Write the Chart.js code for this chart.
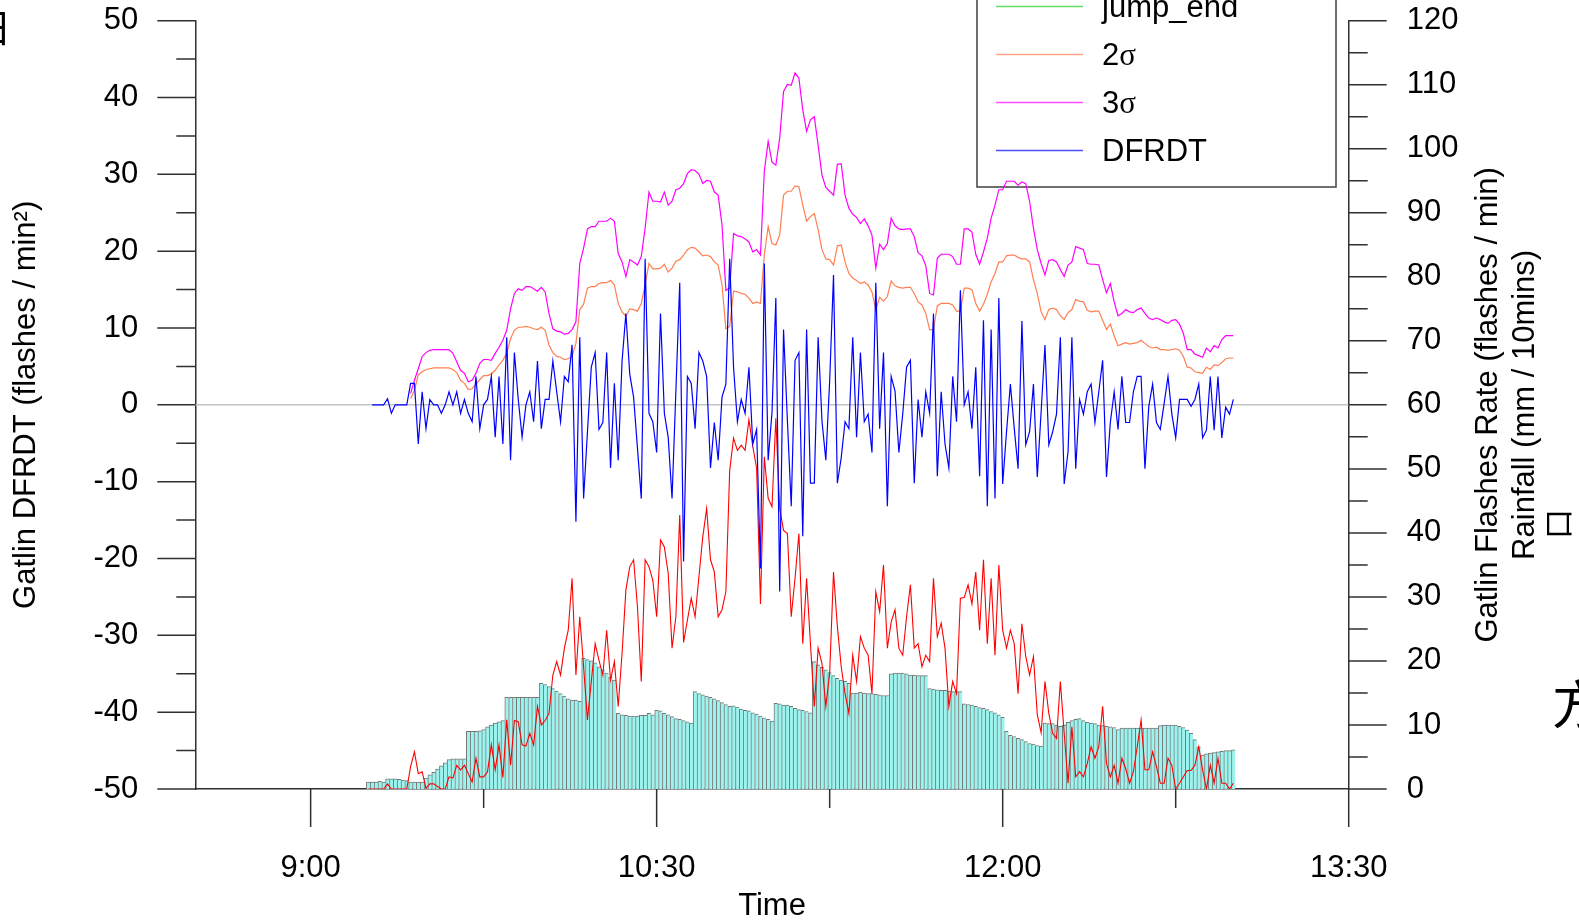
<!DOCTYPE html>
<html>
<head>
<meta charset="utf-8">
<script src="https://cdn.jsdelivr.net/npm/chart.js@4.4.1/dist/chart.umd.min.js"></script>
<style>
	html, body { margin: 0; padding: 0; background: #fff; overflow: hidden; }
	canvas { display: block; }
</style>
</head>
<body>
<canvas id="chart" width="1579" height="920" style="width:1579px;height:920px"></canvas>
<script>
// time axis (h:mm)
const X_MIN = '8:30';
const X_MAX = '13:30';
const X_LABELS = ['9:00', '10:30', '12:00', '13:30'];
const X_MINOR = ['9:45', '11:15', '12:45'];

// DFRDT, one value a minute from 9:16
const DFRDT_START = '9:16';
const dfrdt = [
	0, 0, 0, 0, 0.8, -1.1, 0, 0, 0, 0,
	2.8, 2.8, -5.1, 1.7, -3.1, 0.7, 0, 0, -1.1, 0,
	1.7, 0, 1.7, -1.1, 0.7, -1.1, -2.2, 3.7, -3.1, 0,
	0.7, 3.7, -4.2, 3.7, -5.1, 8.8, -7.2, 6.8, 0.7, -4.2,
	0, 1.7, -2.2, 5.7, -3.1, 0.7, 0.7, 5.7, 1.7, -2.2,
	3.7, 3.0, 7.8, -15.2, 8.8, -12.2, -3.5, 4.9, 6.8, -3.2,
	-2.3, 6.8, -8.2, 2.8, -7.2, 5.7, 11.9, 4.0, 1.0, -5.6,
	-12.2, 19.0, -1.1, -2.2, -6.2, 11.9, -1.1, -4.2, -12.2, 1.8,
	15.9, -20.4, 3.7, 2.8, -3.1, 6.8, 5.7, 3.7, -8.2, -2.3,
	-7.2, 1.0, 2.7, 19.0, 4.9, -2.2, 0.7, -1.1, 4.9, -5.1,
	-3.2, -21.3, 18.4, -7.2, -1.0, 13.9, -24.3, 9.8, -2.0, -13.2,
	5.8, 6.8, -17.1, 9.8, -10.2, -10.2, 8.8, -2.1, -7.2, 3.1,
	16.9, -10.2, -6.9, -2.2, -3.1, 8.8, -4.2, 6.8, -2.2, -1.2,
	-6.2, 15.9, -3.1, 6.8, -13.2, 3.7, 1.8, -6.2, -1.2, 4.9,
	5.8, -10.2, 0.7, -4.2, 1.7, -1.1, 11.9, -9.3, 1.7, -5.1,
	-8.2, 3.7, -2.2, 14.9, 0, 1.7, -3.1, 4.9, -9.3, 11.0,
	-13.2, 9.8, -12.2, 13.9, -10.3, -3.5, 2.7, -3.0, -8.3, 10.9,
	-5.2, -3.5, 2.7, -9.4, -0.9, 7.8, -5.2, -3.5, -1.2, 8.8,
	-10.3, -6.1, 8.8, -8.3, 0.7, -1.2, 1.7, 2.7, -2.3, 1.7,
	5.8, -9.4, -2.3, 1.7, -3.2, 3.7, -2.3, -2.3, 1.7, 3.7,
	3.7, -8.3, -0.2, 2.7, -2.3, -3.2, 0.2, 3.7, -1.2, -4.3,
	0.7, 0.7, 0.7, -0.2, 0.7, 2.7, -4.3, -3.3, 3.7, -3.3,
	3.7, -4.3, -0.3, -1.2, 0.7
];

// 2 sigma / 3 sigma thresholds from 9:26
const SIGMA_START = '9:26';
const sigma2 = [
	0.8, 1.9, 3.9, 4.3, 4.6, 4.7, 4.8, 4.8, 4.8, 4.8,
	4.8, 4.6, 4.2, 3.2, 2.8, 2.0, 2.1, 2.7, 3.3, 3.8,
	3.8, 4.0, 4.5, 5.2, 5.8, 6.7, 8.6, 9.7, 10.1, 10.1,
	10.2, 10.1, 9.9, 9.8, 10.1, 9.7, 7.8, 6.8, 6.3, 6.2,
	5.9, 6.0, 6.3, 8.0, 12.4, 13.1, 15.2, 15.4, 15.4, 15.8,
	15.9, 15.9, 16.2, 15.6, 13.2, 12.1, 11.5, 12.5, 12.4, 12.2,
	13.2, 15.6, 18.4, 17.7, 17.7, 17.8, 18.3, 17.3, 17.8, 18.7,
	18.9, 19.5, 20.2, 20.5, 20.4, 19.9, 19.4, 19.5, 19.3, 18.6,
	18.2, 15.6, 9.9, 10.2, 14.8, 14.7, 14.5, 14.4, 13.9, 13.2,
	13.4, 13.2, 19.5, 23.2, 21.0, 20.8, 22.1, 27.3, 27.8, 27.8,
	28.5, 28.4, 26.0, 23.9, 24.5, 24.9, 22.8, 20.2, 19.0, 18.9,
	18.2, 20.7, 20.8, 18.6, 17.1, 16.5, 16.2, 15.8, 16.0, 15.6,
	14.7, 12.4, 14.0, 13.5, 14.1, 16.1, 15.5, 15.3, 15.2, 15.3,
	15.3, 14.5, 13.4, 13.0, 11.9, 9.8, 9.8, 12.9, 13.2, 13.2,
	13.2, 13.0, 12.2, 12.2, 15.2, 15.2, 15.0, 13.2, 12.2, 13.1,
	14.4, 16.0, 17.1, 18.6, 18.6, 19.4, 19.5, 19.5, 19.2, 19.0,
	19.0, 18.6, 16.3, 14.5, 12.1, 11.1, 12.4, 12.6, 12.4, 11.6,
	11.1, 12.0, 12.4, 13.7, 13.5, 13.4, 12.3, 12.1, 12.2, 12.2,
	11.0, 9.8, 10.5, 9.0, 7.7, 7.9, 8.1, 7.9, 8.0, 8.1,
	8.4, 8.0, 7.6, 7.4, 7.5, 7.2, 7.2, 7.1, 7.2, 7.3,
	7.1, 6.3, 4.9, 4.8, 4.3, 4.2, 4.1, 4.9, 4.6, 5.2,
	5.1, 5.5, 6.0, 6.1, 6.1
];
const sigma3 = [
	1.5, 3.2, 4.7, 6.3, 6.8, 7.1, 7.2, 7.2, 7.2, 7.2,
	7.2, 6.7, 5.6, 4.5, 4.1, 3.0, 3.2, 4.1, 5.4, 5.9,
	5.9, 5.8, 6.7, 7.5, 8.4, 9.7, 12.5, 14.5, 15.1, 14.9,
	15.4, 15.4, 15.1, 14.8, 15.3, 14.7, 11.9, 9.9, 9.6, 9.5,
	9.2, 9.3, 9.8, 10.8, 18.4, 20.4, 22.9, 23.2, 23.2, 23.9,
	23.9, 23.9, 24.3, 23.9, 19.7, 18.6, 16.7, 18.9, 18.6, 18.2,
	19.3, 23.0, 27.7, 26.5, 26.5, 26.4, 27.7, 26.0, 26.5, 28.0,
	28.2, 28.8, 30.1, 30.6, 30.5, 30.0, 28.8, 29.2, 29.1, 27.7,
	27.3, 23.4, 14.9, 15.2, 22.3, 22.0, 21.9, 21.6, 21.2, 19.9,
	20.2, 19.5, 30.4, 34.3, 31.6, 31.2, 34.7, 40.8, 41.7, 41.6,
	43.2, 42.5, 38.4, 35.6, 37.1, 37.5, 33.8, 29.9, 28.3, 27.8,
	27.3, 31.3, 31.4, 27.3, 25.6, 24.8, 24.4, 23.6, 24.2, 23.3,
	22.1, 17.8, 20.9, 20.2, 21.0, 24.3, 23.3, 22.9, 22.8, 22.9,
	22.9, 21.9, 19.8, 19.4, 18.1, 14.5, 14.3, 19.1, 19.6, 19.6,
	19.6, 19.3, 18.3, 18.3, 22.9, 22.9, 22.5, 19.6, 18.3, 19.9,
	21.7, 24.3, 26.0, 28.0, 28.0, 29.1, 29.1, 29.1, 28.6, 29.0,
	28.8, 26.5, 23.0, 20.2, 18.4, 16.9, 18.8, 18.9, 18.6, 17.6,
	16.7, 18.2, 18.6, 20.6, 20.4, 20.2, 18.4, 18.3, 18.3, 18.2,
	16.3, 14.6, 15.8, 13.4, 11.6, 11.9, 12.4, 12.1, 12.0, 12.4,
	12.6, 11.9, 11.3, 11.1, 11.3, 11.1, 10.8, 10.6, 11.0, 11.1,
	10.5, 9.3, 7.2, 7.2, 6.6, 6.4, 6.2, 7.4, 6.9, 7.7,
	7.4, 8.5, 9.0, 9.0, 9.0
];

// Gatlin flash rate and rainfall (right axis), from 9:15
const RATE_START = '9:15';
const flashRate = [
	0, 0, 0, 0, 0, 0.8, 0, 0, 0, 0,
	0, 3.5, 5.8, 2.4, 2.7, 0.1, 0.8, 0.8, 0.4, 0,
	0, 1.9, 1.7, 3.7, 3.0, 3.7, 2.4, 1.1, 4.8, 1.9,
	1.9, 2.7, 6.9, 3.0, 6.9, 1.8, 10.8, 3.7, 10.7, 10.5,
	6.9, 6.7, 8.7, 6.9, 12.9, 10.0, 10.7, 11.8, 17.8, 19.9,
	17.8, 22.0, 24.8, 32.9, 17.8, 26.9, 19.1, 10.8, 16.8, 22.7,
	20.1, 17.8, 24.8, 17.0, 19.9, 12.9, 21.2, 31.1, 34.7, 35.8,
	28.5, 16.8, 35.8, 34.7, 32.6, 26.9, 38.9, 37.8, 33.7, 22.0,
	26.9, 42.8, 22.9, 26.4, 29.8, 26.9, 33.2, 39.4, 43.8, 35.8,
	33.9, 26.9, 28.0, 30.8, 49.8, 54.8, 52.9, 53.7, 52.9, 57.7,
	53.5, 50.1, 28.9, 51.9, 45.4, 44.1, 57.9, 43.8, 40.4, 39.9,
	26.9, 33.0, 39.9, 22.7, 32.9, 22.7, 12.9, 22.0, 19.6, 12.9,
	18.1, 33.9, 25.4, 19.1, 14.9, 11.8, 20.9, 16.8, 23.8, 22.0,
	20.9, 14.9, 30.8, 27.7, 35.0, 22.0, 26.1, 28.0, 22.0, 20.9,
	26.9, 31.9, 22.0, 22.7, 19.1, 20.9, 19.9, 32.9, 23.8, 25.9,
	22.0, 12.9, 16.8, 14.9, 29.8, 29.9, 31.9, 28.9, 33.9, 24.8,
	35.8, 22.7, 32.9, 20.9, 35.0, 24.8, 22.0, 24.8, 22.7, 14.9,
	25.8, 20.7, 17.8, 20.7, 11.6, 8.8, 16.8, 11.8, 8.7, 7.9,
	16.8, 8.7, 0.9, 9.7, 1.9, 2.7, 1.9, 4.0, 6.6, 4.8,
	6.6, 12.9, 4.0, 1.9, 3.7, 0.9, 4.8, 3.2, 0.9, 2.7,
	6.6, 10.8, 3.0, 3.0, 5.8, 3.5, 0.9, 0.9, 4.8, 3.7,
	0, 0.9, 1.9, 2.9, 2.9, 3.7, 6.6, 3.0, 0, 3.7,
	0.9, 4.8, 0.9, 0.9, 0, 0.9
];
const rainfall = [
	1.1, 1.1, 1.1, 1.2, 1.1, 1.6, 1.6, 1.6, 1.5, 1.4,
	1.3, 1.1, 1.1, 1.1, 1.1, 1.7, 2.2, 2.6, 3.1, 3.6,
	4.1, 4.6, 4.7, 4.7, 4.7, 4.7, 9.0, 9.0, 9.0, 9.1,
	9.3, 9.7, 10.0, 10.3, 10.5, 10.7, 14.3, 14.3, 14.3, 14.3,
	14.3, 14.3, 14.3, 14.3, 14.3, 16.5, 16.3, 16.0, 15.7, 15.3,
	14.9, 14.5, 14.1, 13.9, 13.9, 13.7, 20.4, 20.2, 20.0, 19.7,
	19.1, 18.6, 18.1, 17.5, 17.0, 11.8, 11.6, 11.5, 11.4, 11.4,
	11.4, 11.5, 11.5, 11.8, 11.6, 12.3, 12.2, 11.8, 11.6, 11.3,
	11.0, 10.9, 10.7, 10.5, 10.3, 15.2, 14.9, 14.7, 14.5, 14.3,
	14.1, 13.8, 13.5, 13.2, 12.9, 13.0, 12.8, 12.5, 12.3, 12.2,
	11.9, 11.7, 11.4, 11.1, 10.9, 10.6, 13.4, 13.3, 13.1, 13.1,
	12.9, 12.6, 12.4, 12.3, 12.1, 11.9, 19.9, 19.4, 19.0, 18.6,
	18.2, 17.7, 17.3, 17.0, 16.8, 16.5, 15.0, 15.0, 15.1, 15.0,
	14.9, 14.9, 14.8, 14.7, 14.6, 14.6, 18.0, 18.1, 18.1, 18.1,
	18.0, 17.8, 17.8, 17.7, 17.7, 17.7, 15.7, 15.6, 15.5, 15.4,
	15.4, 15.3, 15.2, 15.2, 15.2, 13.3, 13.2, 13.1, 12.9, 12.7,
	12.6, 12.4, 12.1, 11.9, 11.6, 11.2, 9.0, 8.4, 8.2, 7.9,
	7.7, 7.4, 7.1, 7.0, 6.8, 6.7, 10.3, 10.2, 10.2, 10.0,
	9.8, 10.0, 10.4, 10.7, 10.9, 11.0, 10.7, 10.4, 10.3, 10.2,
	10.0, 9.9, 9.8, 9.7, 9.6, 9.3, 9.5, 9.5, 9.5, 9.5,
	9.5, 9.5, 9.5, 9.5, 9.5, 9.5, 9.9, 10.0, 10.0, 10.0,
	10.0, 9.8, 9.6, 9.2, 8.7, 7.7, 6.6, 5.3, 5.5, 5.6,
	5.7, 5.8, 5.9, 6.0, 6.0, 6.1
];

const LEGEND_ITEMS = ['jump_end', '2σ', '3σ', 'DFRDT'];
const RIGHT_TITLE = ['Gatlin Flashes Rate (flashes / min)', 'Rainfall (mm / 10mins)'];

const FONT = "'Liberation Sans', Arial, sans-serif";
const FS = 31;
const AXIS = '#303030';

let toMin = s => {
	let [h, m] = s.split(':').map(Number);
	return h * 60 + m;
};
let fmtMin = v => Math.floor(v / 60) + ':' + String(v % 60).padStart(2, '0');
let series = (start, vals) => vals.map((v, i) => ({ x: toMin(start) + i, y: v }));

// vertical axes: fixed width, no extra top/bottom room for the labels
let fixWidth = w => s => {
	s.width = w;
	s.paddingTop = 0;
	s.paddingBottom = 0;
};

// tick marks: long on labelled ticks, short on the others
const tickMarks = {
	id: 'tickMarks',
	afterDraw(chart) {
		let ctx = chart.ctx;
		let { x, yL, yR } = chart.scales;
		ctx.save();
		ctx.strokeStyle = AXIS;
		ctx.lineWidth = 1.5;
		ctx.beginPath();
		for (let t of yL.ticks) {
			let y = yL.getPixelForValue(t.value);
			let len = t.value % 10 === 0 ? 38 : 19;
			ctx.moveTo(yL.right - len, y);
			ctx.lineTo(yL.right, y);
		}
		for (let t of yR.ticks) {
			let y = yR.getPixelForValue(t.value);
			let len = t.value % 10 === 0 ? 38 : 19;
			ctx.moveTo(yR.left, y);
			ctx.lineTo(yR.left + len, y);
		}
		for (let t of x.ticks) {
			let px = x.getPixelForValue(t.value);
			let len = X_LABELS.includes(fmtMin(t.value)) ? 38 : 19;
			ctx.moveTo(px, x.top);
			ctx.lineTo(px, x.top + len);
		}
		ctx.stroke();
		ctx.restore();
	}
};

// legend box, drawn under the lines
const legendBox = {
	id: 'legendBox',
	beforeDatasetsDraw(chart) {
		let ctx = chart.ctx;
		let left = 977, right = 1336, top = -60, bottom = 187;
		ctx.save();
		ctx.fillStyle = '#fff';
		ctx.fillRect(left, top, right - left, bottom - top);
		ctx.strokeStyle = '#404040';
		ctx.lineWidth = 1.5;
		ctx.strokeRect(left, top, right - left, bottom - top);
		ctx.textBaseline = 'middle';
		ctx.fillStyle = '#000';
		LEGEND_ITEMS.forEach((label, i) => {
			let ds = chart.data.datasets.find(d => d.label === label);
			let y = 6.5 + i * 48;
			ctx.strokeStyle = ds.borderColor;
			ctx.lineWidth = 1.5;
			ctx.globalAlpha = 0.7;
			ctx.beginPath();
			ctx.moveTo(996, y);
			ctx.lineTo(1083, y);
			ctx.stroke();
			ctx.globalAlpha = 1;
			let tx = 1102;
			for (let ch of label) {
				ctx.font = ch === 'σ' ? FS + "px 'Liberation Serif'" : FS + 'px ' + FONT;
				ctx.fillText(ch, tx, y + 2);
				tx += ctx.measureText(ch).width;
			}
		});
		ctx.restore();
	}
};

// right axis title (two lines, bottom to top) and the stray glyphs at the edges
const sideTexts = {
	id: 'sideTexts',
	afterDraw(chart) {
		let ctx = chart.ctx;
		let yR = chart.scales.yR;
		let cy = (chart.chartArea.top + chart.chartArea.bottom) / 2;
		ctx.save();
		ctx.fillStyle = '#000';
		ctx.textAlign = 'center';
		ctx.textBaseline = 'middle';
		ctx.font = FS + 'px ' + FONT;
		RIGHT_TITLE.forEach((t, i) => {
			ctx.save();
			ctx.translate(yR.left + 140 + i * 37, cy);
			ctx.rotate(-Math.PI / 2);
			ctx.fillText(t, 0, 0);
			ctx.restore();
		});
		let cjk = "'Noto Sans CJK SC'";
		ctx.font = '39px ' + cjk;
		ctx.fillText('日', -8, 27);
		ctx.save();
		ctx.translate(1558, 524);
		ctx.rotate(-Math.PI / 2);
		ctx.font = '30px ' + cjk;
		ctx.fillText('口', 0, 0);
		ctx.restore();
		ctx.font = '52px ' + cjk;
		ctx.fillText('方', 1578, 704);
		ctx.restore();
	}
};

const tickFont = { family: FONT, size: FS };

new Chart(document.getElementById('chart'), {
	type: 'line',
	data: {
		datasets: [
			{
				label: 'DFRDT', data: series(DFRDT_START, dfrdt), yAxisID: 'yL',
				borderColor: '#0000ff', borderWidth: 1.2, pointRadius: 0
			},
			{
				label: '3σ', data: series(SIGMA_START, sigma3), yAxisID: 'yL',
				borderColor: '#ff00ff', borderWidth: 1.2, pointRadius: 0
			},
			{
				label: '2σ', data: series(SIGMA_START, sigma2), yAxisID: 'yL',
				borderColor: '#ff7f50', borderWidth: 1.2, pointRadius: 0
			},
			{
				label: 'jump_end', data: [], yAxisID: 'yL',
				borderColor: '#22cc22', borderWidth: 1.2, pointRadius: 0
			},
			{
				label: 'Gatlin', data: series(RATE_START, flashRate), yAxisID: 'yR',
				borderColor: '#ff0000', borderWidth: 1.1, pointRadius: 0
			},
			{
				label: 'zero', data: [{ x: toMin(X_MIN), y: 0 }, { x: toMin(X_MAX), y: 0 }], yAxisID: 'yL',
				borderColor: '#c4c4c4', borderWidth: 1.5, pointRadius: 0
			},
			{
				type: 'bar', label: 'Rainfall', data: series(RATE_START, rainfall), yAxisID: 'yR',
				backgroundColor: '#9cf4ef', borderColor: '#767676',
				borderWidth: { left: 1, top: 1, right: 0, bottom: 0 },
				barPercentage: 1, categoryPercentage: 1
			}
		]
	},
	options: {
		responsive: false,
		animation: false,
		devicePixelRatio: 1,
		layout: { padding: { top: 20.7, left: 0, right: 0, bottom: 0 } },
		plugins: { legend: { display: false }, tooltip: { enabled: false } },
		scales: {
			x: {
				type: 'linear', min: toMin(X_MIN), max: toMin(X_MAX), offset: false,
				afterFit: s => { s.height = 131; },
				afterBuildTicks: s => {
					s.ticks = X_LABELS.concat(X_MINOR).map(toMin).sort((a, b) => a - b).map(v => ({ value: v }));
				},
				grid: { display: false, drawTicks: false },
				border: { color: AXIS, width: 1.5 },
				ticks: {
					autoSkip: false, maxRotation: 0, padding: 61, color: '#000', font: tickFont,
					callback: v => X_LABELS.includes(fmtMin(v)) ? fmtMin(v) : ''
				},
				title: { display: true, text: 'Time', color: '#000', font: tickFont, padding: { top: 0, bottom: -5 } }
			},
			yL: {
				type: 'linear', position: 'left', min: -50, max: 50,
				afterFit: fixWidth(195.3),
				grid: { display: false, drawTicks: false },
				border: { color: AXIS, width: 1.5 },
				ticks: {
					stepSize: 5, autoSkip: false, padding: 57, color: '#000', font: tickFont,
					callback: v => v % 10 === 0 ? String(v) : ''
				},
				title: {
					display: true, text: 'Gatlin DFRDT (flashes / min²)', color: '#000', font: tickFont,
					padding: { top: 8, bottom: 0 }
				}
			},
			yR: {
				type: 'linear', position: 'right', min: 0, max: 120,
				afterFit: fixWidth(230.3),
				grid: { display: false, drawTicks: false },
				border: { color: AXIS, width: 1.5 },
				ticks: {
					stepSize: 5, autoSkip: false, padding: 58, color: '#000', font: tickFont,
					callback: v => v % 10 === 0 ? String(v) : ''
				}
			}
		}
	},
	plugins: [legendBox, tickMarks, sideTexts]
});
</script>
</body>
</html>
